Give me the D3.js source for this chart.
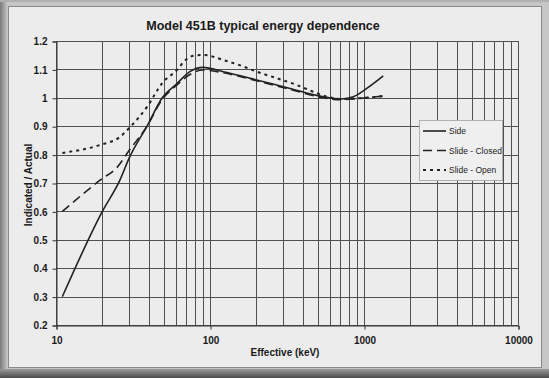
<!DOCTYPE html>
<html><head><meta charset="utf-8">
<script src="https://cdn.jsdelivr.net/npm/d3@7"></script>
<style>body{margin:0;background:#c4c4c4}svg{display:block}text{font-family:"Liberation Sans",Arial,sans-serif}</style>
</head><body>
<script>
const title = "Model 451B typical energy dependence";
const xTitle = "Effective (keV)";
const yTitle = "Indicated / Actual";
const xTickLabels = [10, 100, 1000, 10000];
const yTickLabels = [0.2,0.3,0.4,0.5,0.6,0.7,0.8,0.9,1,1.1,1.2];
const seriesNames = ["Side", "Slide - Closed", "Slide - Open"];
const sideX = [11, 20, 26, 30, 39, 49, 61, 74, 90, 122, 201, 331, 544, 698, 852, 1042, 1334];
const sideY = [0.30, 0.60, 0.71, 0.79, 0.90, 1.00, 1.05, 1.092, 1.107, 1.092, 1.063, 1.033, 1.004, 0.996, 1.004, 1.033, 1.077];
const closedX = [11, 19.3, 25, 30, 39, 49, 61, 74, 90, 122, 201, 331, 544, 698, 900, 1320];
const closedY = [0.60, 0.71, 0.756, 0.816, 0.90, 0.995, 1.045, 1.082, 1.098, 1.088, 1.06, 1.03, 1.0, 0.993, 0.997, 1.006];
const openX = [11, 19.3, 26, 30.3, 39, 49, 61, 70, 78, 91, 122, 165, 201, 271, 366, 469, 573, 698, 897, 1334];
const openY = [0.806, 0.834, 0.862, 0.897, 0.968, 1.052, 1.098, 1.135, 1.148, 1.151, 1.133, 1.11, 1.092, 1.069, 1.045, 1.021, 1.004, 0.996, 0.998, 1.006];

(function(){
const W = 549, H = 378;
const svg = d3.select("body").append("svg").attr("width", W).attr("height", H);
const defs = svg.append("defs");
const gl = defs.append("linearGradient").attr("id","gl");
gl.append("stop").attr("offset","0").attr("stop-color","#7a7a7a");
gl.append("stop").attr("offset","1").attr("stop-color","#c2c2c2");
const gb = defs.append("linearGradient").attr("id","gb").attr("x1",0).attr("x2",0).attr("y1",0).attr("y2",1);
gb.append("stop").attr("offset","0").attr("stop-color","#9a9a9a");
gb.append("stop").attr("offset","1").attr("stop-color","#4a4a4a");

// frame
svg.append("rect").attr("width",W).attr("height",H).attr("fill","#c6c6c6");
svg.append("rect").attr("x",0).attr("y",0).attr("width",7).attr("height",H).attr("fill","url(#gl)");
svg.append("rect").attr("x",0).attr("y",369).attr("width",W).attr("height",9).attr("fill","url(#gb)");
svg.append("rect").attr("x",0).attr("y",0).attr("width",W).attr("height",2).attr("fill","#b0b0b0");
svg.append("rect").attr("x",8.5).attr("y",6.5).attr("width",533).attr("height",361)
  .attr("fill","#ececec").attr("stroke","#8a8a8a").attr("stroke-width",1);

const pL = 56, pR = 518, pT = 41, pB = 325;
const x = d3.scaleLog().domain([10, 10000]).range([pL, pR]);
const y = d3.scaleLinear().domain([0.2, 1.2]).range([pB, pT]);

// grid
const g = svg.append("g");
const minor = [];
for (let d = 10; d < 10000; d *= 10) for (let k = 1; k <= 10; k++) minor.push(d * k);
const vx = Array.from(new Set(minor));
g.selectAll("line.v").data(vx).join("line")
  .attr("x1", d => Math.round(x(d)) + 0.5).attr("x2", d => Math.round(x(d)) + 0.5)
  .attr("y1", pT).attr("y2", pB).attr("stroke", "#505050").attr("stroke-width", 1);
g.selectAll("line.h").data(yTickLabels).join("line")
  .attr("x1", pL).attr("x2", pR)
  .attr("y1", d => Math.round(y(d)) + 0.5).attr("y2", d => Math.round(y(d)) + 0.5)
  .attr("stroke", "#505050").attr("stroke-width", 1);

// axes
const yAxis = d3.axisLeft(y).tickValues(yTickLabels).tickFormat(d => String(d)).tickSize(4).tickPadding(5);
const ya = svg.append("g").attr("transform", `translate(${pL + 0.5},0.5)`).call(yAxis);
const xAxis = d3.axisBottom(x).tickValues(xTickLabels).tickFormat(d3.format("d")).tickSize(4).tickPadding(7);
const xa = svg.append("g").attr("transform", `translate(0.5,${pB + 0.5})`).call(xAxis);
[ya, xa].forEach(a => {
  a.select(".domain").attr("stroke", "#333");
  a.selectAll(".tick line").attr("stroke", "#333");
  a.selectAll("text").attr("fill", "#1a1a1a").attr("font-size", "10px").attr("font-weight", "bold")
    .attr("font-family", '"Liberation Sans",Arial,sans-serif');
});

// curves
const series = [
  {name: seriesNames[0], xs: sideX, ys: sideY, dash: null, w: 1.6},
  {name: seriesNames[1], xs: closedX, ys: closedY, dash: "9,5", w: 1.6},
  {name: seriesNames[2], xs: openX, ys: openY, dash: "3,4", w: 2}
];
const line = d3.line().x(d => x(d[0])).y(d => y(d[1])).curve(d3.curveMonotoneX);
series.forEach(s => {
  svg.append("path").datum(s.xs.map((v, i) => [v, s.ys[i]]))
    .attr("d", line).attr("fill", "none").attr("stroke", "#222")
    .attr("stroke-width", s.w).attr("stroke-dasharray", s.dash);
});

// titles
svg.append("text").attr("x", 263).attr("y", 30).attr("text-anchor", "middle")
  .attr("font-size", "12.5px").attr("font-weight", "bold").attr("fill", "#1a1a1a").text(title);
svg.append("text").attr("x", 285).attr("y", 356).attr("text-anchor", "middle")
  .attr("font-size", "10px").attr("font-weight", "bold").attr("fill", "#1a1a1a").text(xTitle);
svg.append("text").attr("transform", "translate(32,185) rotate(-90)").attr("text-anchor", "middle")
  .attr("font-size", "10px").attr("font-weight", "bold").attr("fill", "#1a1a1a").text(yTitle);

// legend
const lg = svg.append("g");
lg.append("rect").attr("x", 419.5).attr("y", 120.5).attr("width", 83).attr("height", 60)
  .attr("fill", "#efefef").attr("stroke", "#b0b0b0");
series.forEach((s, i) => {
  const yy = 131 + i * 19.5;
  lg.append("line").attr("x1", 423).attr("x2", 446).attr("y1", yy).attr("y2", yy)
    .attr("stroke", "#222").attr("stroke-width", s.w).attr("stroke-dasharray", s.dash);
  lg.append("text").attr("x", 449).attr("y", yy + 3).attr("font-size", "8.5px").attr("fill", "#222").text(s.name);
});
})();
</script>
</body></html>
